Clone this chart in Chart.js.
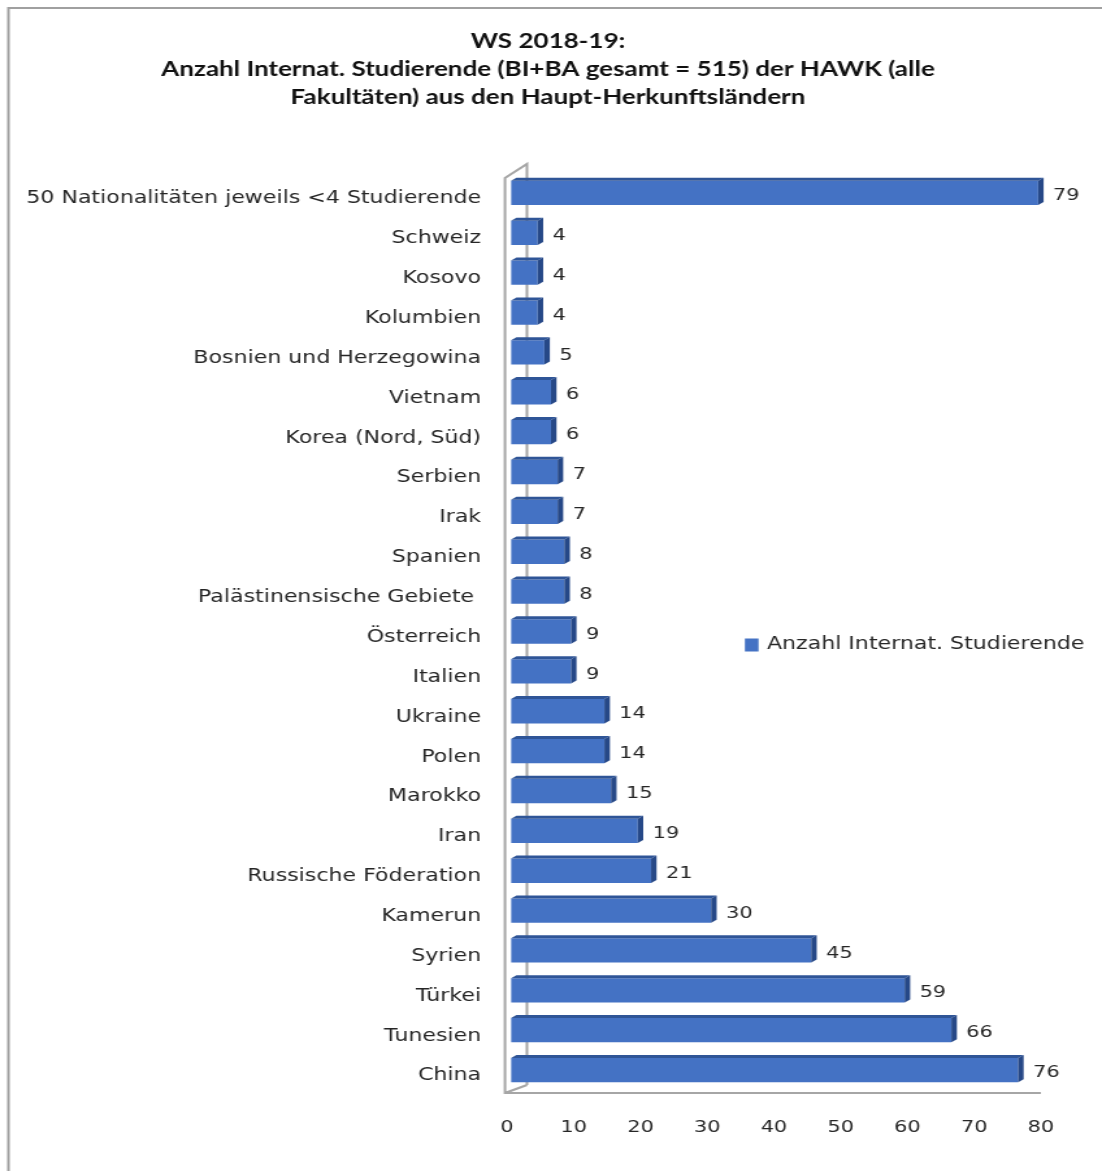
<!DOCTYPE html>
<html>
<head>
<meta charset="utf-8">
<script src="https://cdn.jsdelivr.net/npm/chart.js@4.4.1/dist/chart.umd.min.js"></script>
<style>
  html, body { margin: 0; padding: 0; background: #fff; overflow: hidden; }
  /* the original picture is stretched sideways, so the chart is drawn narrow and scaled */
  #wrap { width: 848px; height: 1171px; transform: scaleX(1.2995); transform-origin: 0 0; }
</style>
</head>
<body>
<div id="wrap"><canvas id="myChart"></canvas></div>
<script>
const stretch = 1102 / 848;

const titleLines = [
  'WS 2018-19:',
  'Anzahl Internat. Studierende (BI+BA gesamt = 515) der HAWK (alle',
  'Fakultäten) aus den Haupt-Herkunftsländern'
];

const countries = [
  '50 Nationalitäten jeweils <4 Studierende',
  'Schweiz',
  'Kosovo',
  'Kolumbien',
  'Bosnien und Herzegowina',
  'Vietnam',
  'Korea (Nord, Süd)',
  'Serbien',
  'Irak',
  'Spanien',
  'Palästinensische Gebiete ',
  'Österreich',
  'Italien',
  'Ukraine',
  'Polen',
  'Marokko',
  'Iran',
  'Russische Föderation',
  'Kamerun',
  'Syrien',
  'Türkei',
  'Tunesien',
  'China'
];

const students = [79, 4, 4, 4, 5, 6, 6, 7, 7, 8, 8, 9, 9, 14, 14, 15, 19, 21, 30, 45, 59, 66, 76];

const seriesName = 'Anzahl Internat. Studierende';

const xTickValues = [0, 10, 20, 30, 40, 50, 60, 70, 80];

const barBlue = '#4472C4';
const barTop = '#2F5597';
const barSide = '#264887';
const wallGrey = '#a6a6a6';
const textColor = '#262626';

// 3D walls, bar depth, value labels and the legend
const excelLook = {
  id: 'excelLook',
  afterLayout(chart) {
    // title is centred on the whole frame, not only on the plot
    chart.titleBlock.left += 39.4;
  },
  beforeDraw(chart) {
    const ctx = chart.ctx;
    ctx.save();
    ctx.strokeStyle = '#a0a0a0';
    ctx.lineWidth = 2;
    ctx.beginPath();
    ctx.moveTo(6.5, chart.height + 10);
    ctx.lineTo(6.5, 8);
    ctx.lineTo(chart.width + 10, 8);
    ctx.stroke();
    ctx.restore();
  },
  beforeDatasetsDraw(chart) {
    const ctx = chart.ctx;
    const area = chart.chartArea;
    const xs = chart.scales.x;
    const front = xs.getPixelForValue(0) - 4.6;
    const back = xs.getPixelForValue(0) + 12.3;
    const floor = area.bottom + 3;
    ctx.save();
    ctx.strokeStyle = wallGrey;
    ctx.lineWidth = 2;
    ctx.beginPath();
    // back wall
    ctx.moveTo(back, floor - 8);
    ctx.lineTo(back, area.top - 9);
    ctx.lineTo(front, area.top + 5);
    ctx.lineTo(front, floor);
    ctx.lineTo(xs.getPixelForValue(80) - 3, floor);
    ctx.moveTo(front, floor);
    ctx.lineTo(back, floor - 8);
    ctx.stroke();
    ctx.restore();
  },
  afterDatasetsDraw(chart) {
    const ctx = chart.ctx;
    const area = chart.chartArea;
    const meta = chart.getDatasetMeta(0);
    const dx = 5.5 / stretch;
    const dy = 3;
    ctx.save();
    meta.data.forEach((bar, i) => {
      const p = bar.getProps(['x', 'y', 'base', 'height'], true);
      const top = p.y - p.height / 2;
      const bottom = p.y + p.height / 2;
      ctx.fillStyle = barTop;
      ctx.beginPath();
      ctx.moveTo(p.base, top);
      ctx.lineTo(p.x, top);
      ctx.lineTo(p.x + dx, top - dy);
      ctx.lineTo(p.base + dx, top - dy);
      ctx.closePath();
      ctx.fill();
      ctx.fillStyle = barSide;
      ctx.beginPath();
      ctx.moveTo(p.x, top);
      ctx.lineTo(p.x + dx, top - dy);
      ctx.lineTo(p.x + dx, bottom - dy);
      ctx.lineTo(p.x, bottom);
      ctx.closePath();
      ctx.fill();

      ctx.fillStyle = textColor;
      ctx.font = '16px "DejaVu Sans"';
      ctx.textAlign = 'left';
      ctx.textBaseline = 'middle';
      ctx.fillText(students[i], p.x + 11.5, p.y + 3);
    });

    // legend sits inside the plot, right of the short bars
    const lx = area.left + 180;
    const ly = (area.top + area.bottom) / 2 + 13;
    ctx.fillStyle = chart.data.datasets[0].backgroundColor;
    ctx.fillRect(lx, ly - 6, 10.5, 13);
    ctx.fillStyle = textColor;
    ctx.font = '17px "DejaVu Sans"';
    ctx.textAlign = 'left';
    ctx.textBaseline = 'middle';
    ctx.fillText(chart.data.datasets[0].label, lx + 17, ly);
    ctx.restore();
  }
};

const myChart = document.getElementById('myChart');

let barChart = new Chart(myChart, {
  type: 'bar',
  data: {
    labels: countries,
    datasets: [{
      label: seriesName,
      data: students,
      backgroundColor: barBlue,
      borderWidth: 0,
      barPercentage: 0.61,
      categoryPercentage: 1
    }]
  },
  options: {
    indexAxis: 'y',
    responsive: true,
    maintainAspectRatio: false,
    animation: false,
    layout: { padding: { left: 0, right: 44, top: 0, bottom: 0 } },
    plugins: {
      legend: { display: false },
      tooltip: { enabled: false },
      title: {
        display: true,
        text: titleLines,
        color: '#111',
        font: { family: 'Lato', size: 20, weight: 'bold', lineHeight: 1.4 },
        padding: { top: 28, bottom: 61 }
      }
    },
    scales: {
      x: {
        min: 0,
        max: 80,
        grid: { display: false, drawTicks: false },
        border: { display: false },
        afterBuildTicks: scale => {
          scale.ticks = xTickValues.map(v => ({ value: v }));
        },
        afterFit: scale => {
          scale.height = 81;
        },
        ticks: {
          color: textColor,
          padding: 28,
          labelOffset: -3,
          maxRotation: 0,
          font: { family: 'DejaVu Sans', size: 16 }
        }
      },
      y: {
        grid: { display: false, drawTicks: false },
        border: { display: false },
        afterFit: scale => {
          scale.width = 393.2;
        },
        ticks: {
          color: textColor,
          padding: 23,
          labelOffset: 6,
          autoSkip: false,
          font: { family: 'DejaVu Sans', size: 17 }
        }
      }
    }
  },
  plugins: [excelLook]
});
</script>
</body>
</html>
